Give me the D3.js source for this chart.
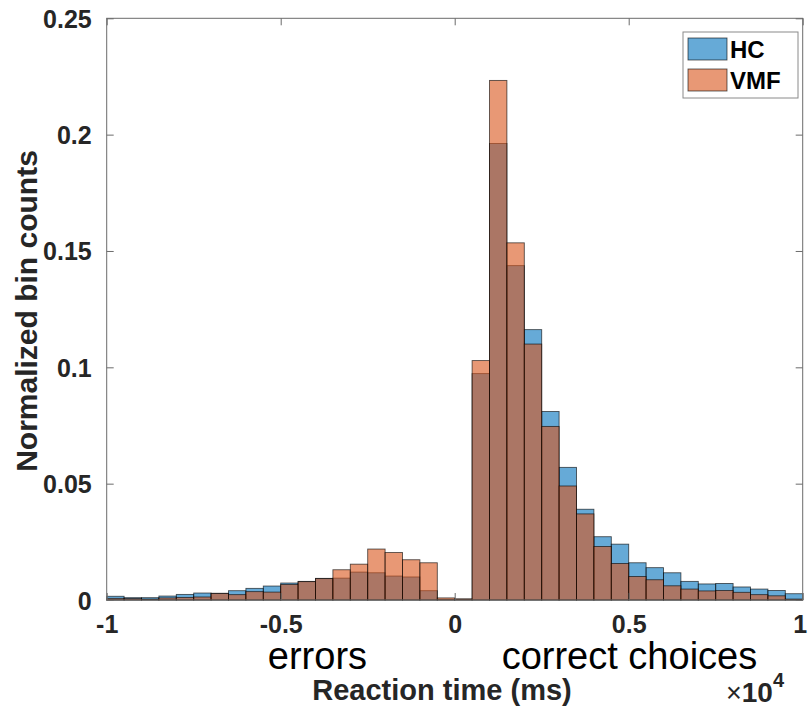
<!DOCTYPE html>
<html>
<head>
<meta charset="utf-8">
<script src="https://cdn.jsdelivr.net/npm/d3@7"></script>
<style>
  body { margin: 0; background: #fff; }
  svg { display: block; font-family: "Liberation Sans", Arial, Helvetica, sans-serif; }
</style>
</head>
<body>
<svg id="chart" width="808" height="713"></svg>
<script>
// bin starts (ms), each bin is 500 ms wide
var binWidth = 500;
var binStarts = [-10000, -9500, -9000, -8500, -8000, -7500, -7000, -6500, -6000, -5500,
                 -5000, -4500, -4000, -3500, -3000, -2500, -2000, -1500, -1000, -500,
                 0, 500, 1000, 1500, 2000, 2500, 3000, 3500, 4000, 4500,
                 5000, 5500, 6000, 6500, 7000, 7500, 8000, 8500, 9000, 9500];

var hcCounts = [0.0016, 0.0010, 0.0010, 0.0017, 0.0024, 0.0030, 0.0029, 0.0040, 0.0050, 0.0060,
                0.0073, 0.0080, 0.0093, 0.0094, 0.0120, 0.0117, 0.0103, 0.0099, 0.0040, 0.0003,
                0.0003, 0.0973, 0.1962, 0.1437, 0.1162, 0.0810, 0.0570, 0.0390, 0.0272, 0.0240,
                0.0160, 0.0139, 0.0117, 0.0080, 0.0069, 0.0071, 0.0056, 0.0047, 0.0041, 0.0027];

var vmfCounts = [0.0007, 0.0006, 0.0004, 0.0009, 0.0011, 0.0013, 0.0028, 0.0023, 0.0036, 0.0034,
                 0.0067, 0.0079, 0.0092, 0.0130, 0.0154, 0.0219, 0.0204, 0.0173, 0.0160, 0.0009,
                 0.0005, 0.1029, 0.2233, 0.1535, 0.1100, 0.0746, 0.0490, 0.0370, 0.0230, 0.0157,
                 0.0101, 0.0087, 0.0061, 0.0047, 0.0039, 0.0041, 0.0033, 0.0023, 0.0018, 0.0004];

var xTicks = [-10000, -5000, 0, 5000, 10000];
var xTickLabels = ["-1", "-0.5", "0", "0.5", "1"];
var yTicks = [0, 0.05, 0.1, 0.15, 0.2, 0.25];
var yTickLabels = ["0", "0.05", "0.1", "0.15", "0.2", "0.25"];

var seriesNames = ["HC", "VMF"];
var seriesColors = ["#0072BD", "#D95319"];

var margin = {top: 18.3, right: 5.3, bottom: 113, left: 106.7},
    width = 808 - margin.left - margin.right,
    height = 713 - margin.top - margin.bottom;

var svg = d3.select("#chart");
var g = svg.append("g")
    .attr("transform", "translate(" + margin.left + "," + margin.top + ")");

var x = d3.scaleLinear().domain([-10000, 10000]).range([0, width]);
var y = d3.scaleLinear().domain([0, 0.25]).range([height, 0]);

// bars, HC first then VMF on top
[hcCounts, vmfCounts].forEach(function(counts, si) {
    g.append("g")
        .selectAll("rect")
        .data(counts)
        .join("rect")
        .attr("x", function(d, i) { return x(binStarts[i]); })
        .attr("y", function(d) { return y(d); })
        .attr("width", function(d, i) { return x(binStarts[i] + binWidth) - x(binStarts[i]); })
        .attr("height", function(d) { return height - y(d); })
        .attr("fill", seriesColors[si])
        .attr("fill-opacity", 0.6)
        .attr("stroke", "#000")
        .attr("stroke-opacity", 0.65)
        .attr("stroke-width", 0.9);
});

// box and ticks (ticks point inward, like matlab)
var axisColor = "#6b6b6b";
var tickLen = 7;

g.append("rect")
    .attr("x", 0).attr("y", 0)
    .attr("width", width).attr("height", height)
    .attr("fill", "none")
    .attr("stroke", axisColor)
    .attr("stroke-width", 1);

var xAxisB = d3.axisBottom(x).tickValues(xTicks).tickSize(-tickLen)
    .tickFormat(function(d, i) { return xTickLabels[i]; }).tickPadding(tickLen + 8);
var gx = g.append("g").attr("transform", "translate(0," + height + ")").call(xAxisB);
var xAxisT = d3.axisTop(x).tickValues(xTicks).tickSize(-tickLen).tickFormat("");
var gxt = g.append("g").call(xAxisT);

var yAxisL = d3.axisLeft(y).tickValues(yTicks).tickSize(-tickLen)
    .tickFormat(function(d, i) { return yTickLabels[i]; }).tickPadding(tickLen + 8);
var gy = g.append("g").call(yAxisL);
var yAxisR = d3.axisRight(y).tickValues(yTicks).tickSize(-tickLen).tickFormat("");
var gyr = g.append("g").attr("transform", "translate(" + width + ",0)").call(yAxisR);

[gx, gxt, gy, gyr].forEach(function(a) {
    a.select(".domain").remove();
    a.selectAll(".tick line").attr("stroke", axisColor).attr("stroke-width", 1);
    a.selectAll(".tick text")
        .attr("fill", "#262626")
        .style("font-size", "25px")
        .style("font-weight", "bold");
});
gy.selectAll(".tick text").attr("dy", "0.36em");
// last x label sits right at the window edge
gx.selectAll(".tick text").filter(function(d) { return d == 10000; }).attr("dx", -3);

// text below the axis
g.append("text")
    .attr("x", x(-5370)).attr("y", 669 - margin.top)
    .style("font-size", "38px")
    .attr("fill", "#000")
    .text("errors");

g.append("text")
    .attr("x", x(1350)).attr("y", 669 - margin.top)
    .style("font-size", "38px")
    .attr("fill", "#000")
    .text("correct choices");

g.append("text")
    .attr("x", 442 - margin.left).attr("y", 700 - margin.top)
    .attr("text-anchor", "middle")
    .style("font-size", "29px")
    .style("font-weight", "bold")
    .attr("fill", "#262626")
    .text("Reaction time (ms)");

var expo = g.append("text")
    .attr("x", 726 - margin.left).attr("y", 702 - margin.top)
    .style("font-weight", "bold")
    .attr("fill", "#262626");
expo.append("tspan").style("font-size", "27px").style("font-weight", "normal").text("\u00d7");
expo.append("tspan").style("font-size", "28px").text("10");
expo.append("tspan").attr("dy", -15).style("font-size", "20px").text("4");

svg.append("text")
    .attr("transform", "translate(37," + 311 + ") rotate(-90)")
    .attr("text-anchor", "middle")
    .style("font-size", "30px")
    .style("font-weight", "bold")
    .attr("fill", "#262626")
    .text("Normalized bin counts");

// legend
var legend = svg.append("g").attr("transform", "translate(683,32)");
legend.append("rect")
    .attr("width", 115).attr("height", 66)
    .attr("fill", "#fff")
    .attr("stroke", "#8a8a8a")
    .attr("stroke-width", 1);
seriesNames.forEach(function(name, i) {
    legend.append("rect")
        .attr("x", 5).attr("y", 6 + i * 31)
        .attr("width", 39).attr("height", 22)
        .attr("fill", seriesColors[i])
        .attr("fill-opacity", 0.6)
        .attr("stroke", "#000")
        .attr("stroke-opacity", 0.65)
        .attr("stroke-width", 0.9);
    legend.append("text")
        .attr("x", 47).attr("y", 26 + i * 31)
        .style("font-size", "24px")
        .style("font-weight", "bold")
        .attr("fill", "#000")
        .text(name);
});
</script>
</body>
</html>
